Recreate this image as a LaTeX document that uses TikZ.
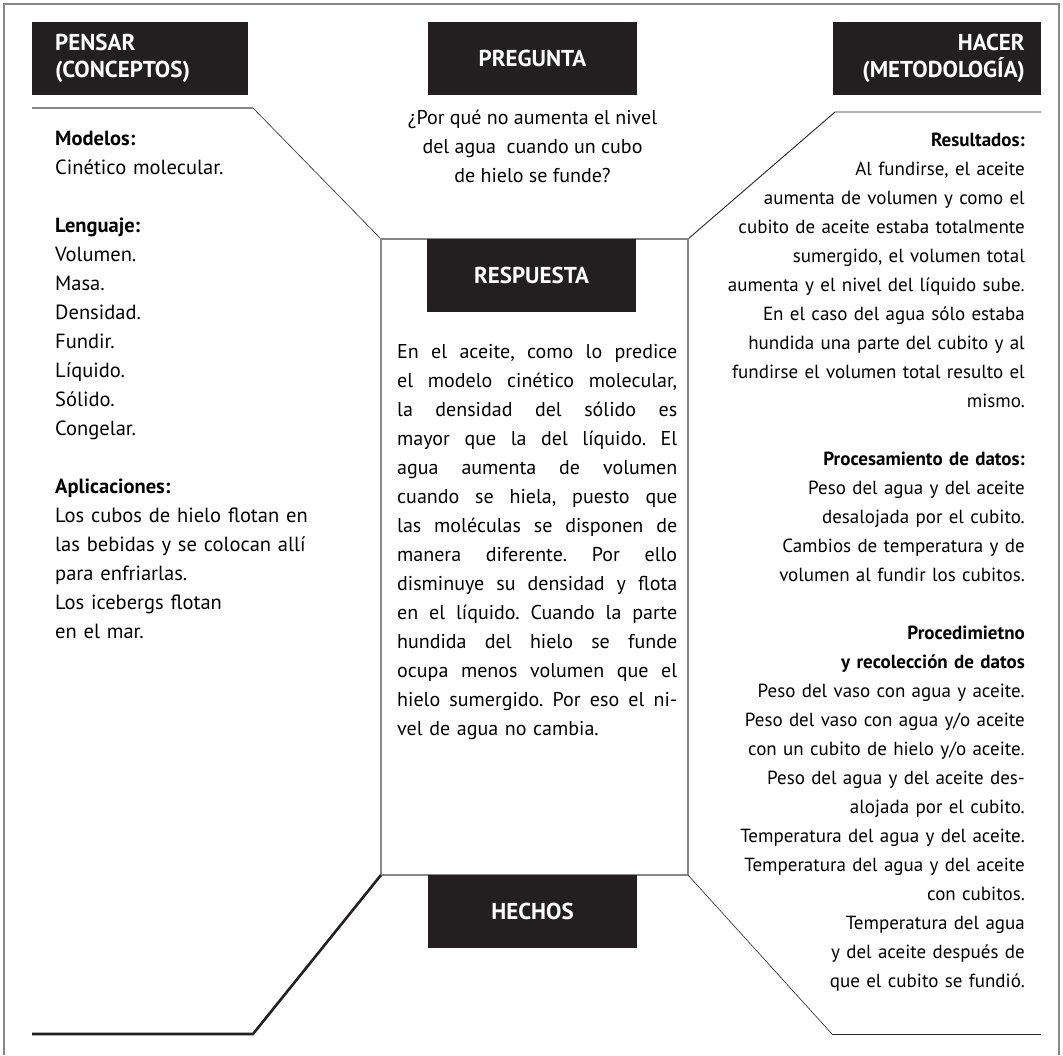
\documentclass[tikz,border=0pt]{standalone}
\usepackage{fontspec}
\setmainfont{PT Sans}
\usetikzlibrary{calc, positioning}
\definecolor{boxblack}{RGB}{35,31,32}
\definecolor{framegray}{RGB}{135,135,135}
\frenchspacing

\begin{document}
\begin{tikzpicture}[x=1pt, y=-1pt, node distance=0pt]
		\tikzstyle{tag} = [fill=boxblack, text=white, inner sep=0pt, minimum height=73pt,
			font=\bfseries\fontsize{23}{27}\selectfont]
		\tikzstyle{body} = [inner sep=0pt, font=\fontsize{19}{29}\selectfont]
		\def\colw{280pt}
		\def\jl#1{\makebox[\colw][s]{\spaceskip=0pt\xspaceskip=0pt #1}\\}

		\useasboundingbox (0,0) rectangle (1063,1055);
		\draw[framegray, line width=1.5pt] (4,1055) -- (4,4) -- (1059,4) -- (1059,1055);

		% corners of the middle column
		\coordinate (tl) at (381,239);
		\coordinate (tr) at (688,239);
		\coordinate (bl) at (381,875);
		\coordinate (br) at (688,875);

		\node[tag, anchor=north west, minimum width=216pt, text width=170pt, align=left] (pensar) at (32,22) {PENSAR\\(CONCEPTOS)};
		\node[tag, anchor=north, minimum width=209pt] (pregunta) at (532.5,22) {PREGUNTA};
		\node[tag, anchor=north east, minimum width=208pt, text width=176pt, align=right] (hacer) at (1041,22) {HACER\\(METODOLOGÍA)};

		\coordinate (pensar end) at (253,108);
		\coordinate (hacer end) at (835,112);
		\coordinate (hechos end) at (253,1034);
		\coordinate (datos end) at (832,1034);

		\draw[framegray, line width=1.2pt] (pensar.west |- pensar end) -- (pensar end);
		\draw[black!85, line width=0.6pt] (pensar end) -- (tl);
		\draw[black!85, line width=0.9pt] (hacer.east |- hacer end) -- (hacer end) -- (tr);
		\draw[framegray, line width=1.5pt] (tl) rectangle (br);
		\draw[boxblack, line width=2.6pt] (pensar.west |- hechos end) -- (hechos end) -- (bl);
		\draw[black!85, line width=0.6pt] (br) -- (datos end);
		\draw[black!85, line width=0.9pt] (datos end) -- (hacer.east |- datos end);

		\node[tag, anchor=north, minimum width=209pt] (respuesta) at ($(tl)!0.5!(tr)+(-3,0)$) {RESPUESTA};
		\node[tag, anchor=north, minimum width=209pt] (hechos) at ($(bl)!0.5!(br)+(-2,0)$) {HECHOS};

		\node[body, below=14pt of pregunta, align=center, font=\fontsize{20}{29}\selectfont] (pregunta text) {¿Por qué no aumenta el nivel\\del agua~ cuando un cubo\\de hielo se funde?};

		\node[body, anchor=north west, text width=300pt, align=left, font=\fontsize{20.5}{29}\selectfont] (conceptos) at (55,131) {%
			\textbf{Modelos:}\\
			Cinético molecular.\\[29pt]
			\textbf{Lenguaje:}\\
			Volumen.\\
			Masa.\\
			Densidad.\\
			Fundir.\\
			Líquido.\\
			Sólido.\\
			Congelar.\\[29pt]
			\textbf{Aplicaciones:}\\
			Los cubos de hielo flotan en\\
			las bebidas y se colocan allí\\
			para enfriarlas.\\
			Los icebergs flotan\\
			en el mar.};

		\node[body, anchor=north west, text width=\colw, align=left, font=\fontsize{20}{29}\selectfont] (respuesta text) at (397,344) {%
			\jl{En el aceite, como lo predice}
			\jl{el modelo cinético molecular,}
			\jl{la densidad del sólido es}
			\jl{mayor que la del líquido. El}
			\jl{agua aumenta de volumen}
			\jl{cuando se hiela, puesto que}
			\jl{las moléculas se disponen de}
			\jl{manera diferente. Por ello}
			\jl{disminuye su densidad y flota}
			\jl{en el líquido. Cuando la parte}
			\jl{hundida del hielo se funde}
			\jl{ocupa menos volumen que el}
			\jl{hielo sumergido. Por eso el ni-}
			vel de agua no cambia.};

		\node[body, anchor=north east, text width=340pt, align=right] (metodologia) at (1025,133) {%
			\textbf{Resultados:}\\
			Al fundirse, el aceite\\
			aumenta de volumen y como el\\
			cubito de aceite estaba totalmente\\
			sumergido, el volumen total\\
			aumenta y el nivel del líquido sube.\\
			En el caso del agua sólo estaba\\
			hundida una parte del cubito y al\\
			fundirse el volumen total resulto el\\
			mismo.\\[29pt]
			\textbf{Procesamiento de datos:}\\
			Peso del agua y del aceite\\
			desalojada por el cubito.\\
			Cambios de temperatura y de\\
			volumen al fundir los cubitos.\\[29pt]
			\textbf{Procedimietno}\\
			\textbf{y recolección de datos}\\
			Peso del vaso con agua y aceite.\\
			Peso del vaso con agua y/o aceite\\
			con un cubito de hielo y/o aceite.\\
			Peso del agua y del aceite des-\\
			alojada por el cubito.\\
			Temperatura del agua y del aceite.\\
			Temperatura del agua y del aceite\\
			con cubitos.\\
			Temperatura del agua\\
			y del aceite después de\\
			que el cubito se fundió.};
	\end{tikzpicture}
\end{document}
